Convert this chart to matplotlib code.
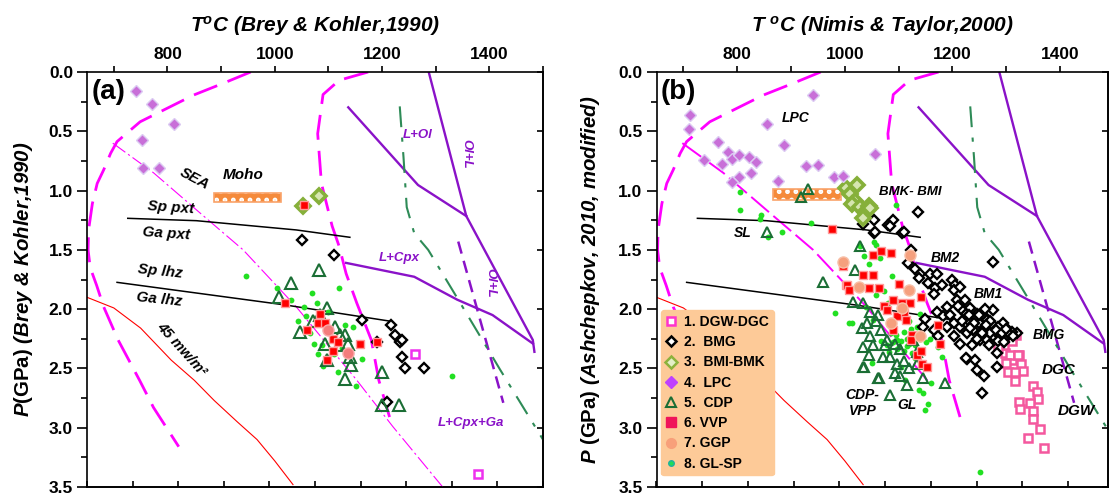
import numpy as np
import matplotlib
matplotlib.use("Agg")
import matplotlib.pyplot as plt
from matplotlib.lines import Line2D
from matplotlib.patches import Rectangle
from matplotlib.ticker import MultipleLocator, FormatStrFormatter

plt.rcParams['font.family'] = 'Liberation Sans'
plt.rcParams['font.weight'] = 'bold'
plt.rcParams['mathtext.fontset'] = 'custom'
plt.rcParams['mathtext.rm'] = 'Liberation Sans:bold'
plt.rcParams['mathtext.default'] = 'regular'
plt.rcParams['hatch.linewidth'] = 2.2

# ---------------- reference curves (T in C, P in GPa) ----------------
mag1_T = [955, 904, 849, 787, 749, 706, 694, 681, 669, 660, 653, 652, 656, 668, 681, 708, 748, 774, 821]
mag1_P = [0, 0.095, 0.194, 0.334, 0.42, 0.587, 0.686, 0.826, 0.94, 1.11, 1.33, 1.5, 1.65, 1.8, 1.98, 2.26, 2.6, 2.83, 3.16]
mag2_T = [1174, 1120, 1090, 1080, 1087, 1107, 1120, 1133, 1153, 1180, 1194, 1214]
mag2_P = [0, 0.07, 0.19, 0.52, 0.94, 1.3, 1.47, 1.7, 1.95, 2.26, 2.6, 2.91]
sea_T = [698, 774, 861, 941, 1040, 1153, 1220, 1313]
sea_P = [0.6, 0.85, 1.19, 1.5, 1.98, 2.6, 2.99, 3.5]
geo45_T = [650, 700, 750, 807, 850, 887, 930, 967, 1000, 1034]
geo45_P = [1.9, 1.99, 2.16, 2.43, 2.6, 2.77, 2.95, 3.1, 3.28, 3.48]
pxt_T = [726, 854, 1040, 1140]
pxt_P = [1.234, 1.254, 1.332, 1.394]
lhz_T = [706, 1020, 1213]
lhz_P = [1.774, 1.965, 2.1]
lol_T = [1137, 1267, 1357]
lol_P = [0.298, 0.953, 1.215]
oll_T = [1287, 1357, 1481, 1484]
oll_P = [0, 1.215, 2.26, 2.36]
lcpx_T = [1133, 1260, 1340, 1406, 1481]
lcpx_P = [1.61, 1.727, 1.92, 2.05, 2.29]
oldash_T = [1342, 1426]
oldash_P = [1.43, 2.79]
green_T = [1233, 1240, 1246, 1260, 1286, 1346, 1420, 1500]
green_P = [0.29, 0.72, 1.14, 1.36, 1.5, 1.95, 2.51, 3.1]

# ---------------- panel (a) data ----------------
a_lpc_T = [741, 771, 813, 752, 754, 785]
a_lpc_P = [0.157, 0.27, 0.44, 0.573, 0.807, 0.807]
a_bmi_T = [1052, 1082]
a_bmi_P = [1.127, 1.046]
a_bmg_T = [1050, 1110, 1162, 1217, 1224, 1234, 1237, 1237, 1242, 1279, 1210, 1190]
a_bmg_P = [1.42, 1.543, 2.09, 2.134, 2.218, 2.274, 2.26, 2.406, 2.5, 2.5, 2.78, 2.274]
a_dg_T = [1261, 1379]
a_dg_P = [2.38, 3.39]
a_cdp_T = [1082, 1030, 1008, 1047, 1072, 1097, 1112, 1094, 1121, 1131, 1137, 1140, 1143, 1097, 1131,
           1199, 1199, 1232, 1085, 1120]
a_cdp_P = [1.67, 1.78, 1.9, 2.19, 2.1, 1.99, 2.15, 2.29, 2.22, 2.22, 2.29, 2.4, 2.47, 2.43, 2.59,
           2.53, 2.81, 2.81, 2.05, 2.3]
a_vvp_T = [1054, 1019, 1085, 1081, 1094, 1061, 1108, 1117, 1108, 1098, 1159, 1191]
a_vvp_P = [1.12, 1.95, 2.04, 2.12, 2.12, 2.18, 2.25, 2.28, 2.35, 2.43, 2.29, 2.28]
a_ggp_T = [1099, 1137]
a_ggp_P = [2.18, 2.37]
a_gl_T = [946, 1004, 1120, 1031, 1069, 1078, 1055, 1044, 1066, 1073, 1081, 1131, 1146, 1162, 1117,
          1151, 1330, 1088, 1125, 1058, 1100, 1110, 1090]
a_gl_P = [1.72, 1.82, 1.82, 1.92, 1.86, 1.95, 1.98, 2.1, 2.2, 2.29, 2.38, 2.13, 2.15, 2.42, 2.53,
          2.65, 2.56, 2.3, 2.33, 2.06, 2.02, 2.38, 2.48]

# ---------------- panel (b) data ----------------
b_dg_T = [1324, 1310, 1327, 1304, 1331, 1316, 1350, 1357, 1358, 1324, 1326, 1344, 1350, 1350, 1362,
          1341, 1371, 1298, 1307, 1322, 1316, 1300, 1310, 1318, 1296, 1285, 1300]
b_dg_P = [2.39, 2.43, 2.46, 2.53, 2.52, 2.61, 2.65, 2.70, 2.76, 2.78, 2.84, 2.79, 2.86, 2.93, 3.01,
          3.09, 3.17, 2.37, 2.39, 2.39, 2.53, 2.23, 2.27, 2.22, 2.30, 2.33, 2.45]
b_bmg_T = [1055, 1106, 1118, 1130, 1140, 1137, 1158, 1172, 1155, 1168, 1165, 1180, 1199, 1205, 1202,
           1276, 1208, 1223, 1220, 1233, 1245, 1258, 1264, 1276, 1276, 1289, 1298, 1301, 1251, 1264,
           1276, 1239, 1227, 1214, 1202, 1189, 1183, 1171, 1149, 1165, 1174, 1202, 1214, 1227, 1242,
           1258, 1245, 1254, 1146, 1214, 1226, 1294, 1319, 1288, 1236, 1225, 1282, 1282, 1034, 1054,
           1056, 1081, 1089, 1083, 1109, 1136, 1122, 1310, 1305, 1270, 1250, 1240, 1260, 1285, 1295,
           1230, 1215, 1230, 1240, 1250, 1262, 1270, 1280, 1292, 1300, 1285, 1268, 1255, 1245, 1232,
           1218, 1196, 1190, 1210, 1260, 1296, 1313]
b_bmg_P = [1.36, 1.36, 1.61, 1.66, 1.70, 1.74, 1.70, 1.70, 1.78, 1.82, 1.87, 1.80, 1.75, 1.80, 1.84,
           1.60, 1.92, 1.92, 2.01, 1.99, 2.04, 2.06, 2.09, 2.01, 2.13, 2.18, 2.15, 2.23, 2.26, 2.26,
           2.23, 2.18, 2.20, 2.15, 2.12, 2.15, 2.06, 2.02, 2.08, 2.18, 2.23, 2.23, 2.29, 2.42, 2.43,
           2.56, 2.51, 2.71, 2.15, 1.81, 2.04, 2.12, 2.20, 2.23, 2.30, 2.41, 2.49, 2.37, 1.28, 1.25,
           1.35, 1.29, 1.25, 1.30, 1.35, 1.18, 1.50, 2.19, 2.21, 2.10, 2.12, 2.08, 2.17, 2.15, 2.25,
           2.10, 2.00, 2.05, 2.12, 2.05, 2.13, 2.20, 2.18, 2.20, 2.17, 2.27, 2.30, 2.20, 2.25, 2.16,
           2.10, 2.05, 1.98, 1.97, 2.00, 2.28, 2.23]
b_bmi_T = [1003, 1023, 1010, 1019, 1013, 1028, 1044, 1037, 1034, 1047]
b_bmi_P = [0.98, 0.95, 1.03, 1.085, 1.11, 1.14, 1.13, 1.18, 1.23, 1.15]
b_lpc_T = [941, 712, 711, 855, 886, 765, 782, 739, 771, 790, 803, 822, 835, 825, 804, 790, 876, 927,
           951, 1056, 980, 997]
b_lpc_P = [0.194, 0.363, 0.483, 0.441, 0.616, 0.588, 0.672, 0.742, 0.776, 0.737, 0.70, 0.72, 0.756,
           0.855, 0.888, 0.93, 0.92, 0.793, 0.784, 0.694, 0.888, 0.874]
b_cdp_T = [932, 918, 856, 959, 1028, 1019, 1016, 1034, 1047, 1062, 1031, 1041, 1068, 1047, 1078, 1075,
           1093, 1103, 1034, 1044, 1034, 1084, 1096, 1093, 1109, 1115, 1062, 1084, 1127, 1134, 1186,
           1134, 1036, 1063, 1146, 1057, 1052, 1070, 1102, 1120]
b_cdp_P = [0.99, 1.05, 1.35, 1.77, 1.47, 1.67, 1.94, 1.95, 2.02, 2.05, 2.16, 2.12, 2.18, 2.23, 2.26,
           2.30, 2.29, 2.34, 2.32, 2.39, 2.49, 2.40, 2.46, 2.54, 2.44, 2.64, 2.58, 2.72, 2.26, 2.36,
           2.62, 2.46, 2.49, 2.58, 2.58, 2.10, 2.30, 2.40, 2.56, 2.50]
b_vvp_T = [976, 1002, 1053, 1068, 1086, 1034, 1053, 1004, 1007, 1044, 1064, 1101, 1089, 1106, 1121,
           1109, 1096, 1114, 1124, 1134, 1143, 1152, 1174, 1177, 997, 1073, 1079, 1142, 1089, 1122, 1142]
b_vvp_P = [1.32, 1.80, 1.54, 1.51, 1.53, 1.71, 1.71, 1.80, 1.84, 1.82, 1.82, 1.79, 1.92, 1.95, 1.95,
           2.03, 2.06, 2.09, 2.22, 2.39, 2.46, 2.49, 2.13, 2.29, 1.64, 1.97, 2.01, 1.90, 2.18, 2.26, 2.35]
b_ggp_T = [996, 1121, 1026, 1119, 1106, 1085, 1139]
b_ggp_P = [1.60, 1.54, 1.81, 1.84, 1.99, 2.12, 2.23]
b_gl_T = [806, 805, 844, 843, 858, 883, 938, 1028, 1054, 1058, 982, 1008, 1095, 1013, 1053, 1040,
          1058, 1080, 1100, 1122, 1140, 1160, 1150, 1174, 1158, 1140, 1110, 1097, 1082, 1096, 1116,
          1130, 1104, 1112, 1146, 1155, 1149, 1137, 1160, 1215, 1252, 1310, 1073, 1045, 1036, 1066,
          1088, 1120, 1180, 1135, 1125, 1092, 1067, 1050, 1085, 1095, 1105, 1115, 1100, 1090, 1110,
          1120, 1078, 1130]
b_gl_P = [1.01, 1.16, 1.21, 1.24, 1.39, 1.35, 1.27, 1.47, 1.43, 1.46, 2.03, 2.12, 1.12, 2.12, 2.09,
          1.98, 1.88, 1.95, 2.04, 2.17, 2.04, 2.18, 2.28, 2.32, 2.25, 2.25, 2.19, 2.26, 2.36, 2.34,
          2.31, 2.41, 2.49, 2.60, 2.71, 2.80, 2.85, 2.68, 2.62, 2.29, 3.37, 2.20, 1.85, 1.62, 1.55,
          1.57, 1.72, 2.10, 2.40, 2.15, 2.37, 2.15, 2.27, 2.45, 2.20, 2.22, 2.27, 2.25, 2.32, 2.28,
          2.35, 2.29, 2.30, 2.30]

legend_labels = ['1. DGW-DGC', '2.  BMG', '3.  BMI-BMK', '4.  LPC', '5.  CDP', '6. VVP', '7. GGP',
                 '8. GL-SP']

PURPLE = '#8A12C8'
MAGENTA = '#FF00FF'
TRI = '#1B6E35'


def draw_curves(ax, sea_stop, sea_lw, sea_dash):
    ax.plot(mag1_T, mag1_P, color=MAGENTA, lw=2.0, dashes=(9, 4), zorder=1)
    ax.plot(mag2_T, mag2_P, color=MAGENTA, lw=2.0, dashes=(9, 4), zorder=1)
    n = sum(1 for p in sea_P if p <= sea_stop)
    ax.plot(sea_T[:n], sea_P[:n], color=MAGENTA, lw=sea_lw, dashes=sea_dash, zorder=1)
    ax.plot(geo45_T, geo45_P, color='red', lw=0.8, zorder=1)
    ax.plot(pxt_T, pxt_P, color='black', lw=1.1, zorder=1)
    ax.plot(lhz_T, lhz_P, color='black', lw=1.1, zorder=1)
    for t, p in [(lol_T, lol_P), (oll_T, oll_P), (lcpx_T, lcpx_P)]:
        ax.plot(t, p, color=PURPLE, lw=1.7, zorder=1)
    ax.plot(oldash_T, oldash_P, color=PURPLE, lw=1.8, dashes=(5, 3), zorder=1)
    ax.plot(green_T, green_P, color='#2E8B57', lw=1.5, dashes=(10, 5, 2, 5), zorder=1)


def setup_axes(ax, xmax, xlabel, ylabel, ylabelpad):
    ax.set_xlim(650, xmax)
    ax.set_ylim(3.5, 0)
    ax.xaxis.set_ticks_position('top')
    ax.xaxis.set_label_position('top')
    ax.set_xticks([800, 1000, 1200, 1400])
    ax.set_xticks([t for t in [700, 900, 1100, 1300, 1500] if t <= xmax], minor=True)
    ax.yaxis.set_major_locator(MultipleLocator(0.5))
    ax.yaxis.set_minor_locator(MultipleLocator(0.25))
    ax.yaxis.set_major_formatter(FormatStrFormatter('%.1f'))
    ax.yaxis.set_ticks_position('left')
    ax.tick_params(axis='x', which='both', direction='out', length=4, width=1.2,
                   labelsize=12.5, pad=3)
    ax.tick_params(axis='y', which='major', direction='out', length=7, width=1.2,
                   labelsize=12.5, pad=3)
    ax.tick_params(axis='y', which='minor', direction='out', length=4, width=1.2)
    for lab in ax.get_xticklabels() + ax.get_yticklabels():
        lab.set_fontweight('bold')
    sec = ax.secondary_xaxis('bottom')
    sec.set_xticks([650 + 85 * k for k in range(11) if 650 + 85 * k <= xmax])
    sec.tick_params(direction='in', length=4, width=1.2, labelbottom=False)
    secy = ax.secondary_yaxis('right')
    secy.set_yticks([0.5 * k for k in range(8)])
    secy.tick_params(direction='in', length=4, width=1.2, labelright=False)
    for s in list(ax.spines.values()) + list(sec.spines.values()) + list(secy.spines.values()):
        s.set_linewidth(1.2)
    ax.set_xlabel(xlabel, fontsize=15, fontstyle='italic', fontweight='bold', labelpad=11)
    ax.set_ylabel(ylabel, fontsize=14.7, fontstyle='italic', fontweight='bold', labelpad=ylabelpad)


def moho(ax, t0, t1, p0, p1):
    ax.add_patch(Rectangle((t0, p0), t1 - t0, p1 - p0, facecolor='#F58A3A', edgecolor='white',
                           hatch='..', lw=0, zorder=2))
    ax.add_patch(Rectangle((t0, p0), t1 - t0, p1 - p0, facecolor='none', edgecolor='#F9A36A',
                           lw=1.2, zorder=2))


def label(ax, s, t, p, size=10.5, color='black', rot=0):
    ax.text(t, p, s, fontsize=size, color=color, fontstyle='italic', fontweight='bold',
            rotation=rot, ha='center', va='center', rotation_mode='anchor', zorder=6)


fig = plt.figure(figsize=(11.09, 4.94), dpi=100)
ax_a = fig.add_axes([87 / 1109, 7 / 494, 456 / 1109, 415 / 494])
ax_b = fig.add_axes([656.5 / 1109, 7 / 494, 451.5 / 1109, 415 / 494])

# ---------------- panel (a) ----------------
ax = ax_a
draw_curves(ax, 3.6, 0.8, (14, 3, 2, 3))
moho(ax, 886, 1011, 1.02, 1.10)
ax.plot(a_gl_T, a_gl_P, 'o', ms=4.2, color='#22E022', mec='none', zorder=3)
ax.plot(a_lpc_T, a_lpc_P, 'D', ms=6, mfc='#C86FD8', mec='#DCCBF2', mew=1, zorder=4)
ax.plot(a_bmi_T, a_bmi_P, 'D', ms=7, mfc='#D6E6B0', mec='#86B03A', mew=2.6, zorder=4)
ax.plot(a_bmg_T, a_bmg_P, 'D', ms=5, mfc='white', mec='black', mew=1.7, zorder=4)
ax.plot(a_dg_T, a_dg_P, 's', ms=6, mfc='white', mec='#EE30EE', mew=1.8, zorder=4)
ax.plot(a_cdp_T, a_cdp_P, '^', ms=8, mfc='none', mec=TRI, mew=1.5, zorder=5)
ax.plot(a_vvp_T, a_vvp_P, 's', ms=6, mfc='#FF0000', mec='#FF9A9A', mew=1, zorder=5)
ax.plot(a_ggp_T, a_ggp_P, 'o', ms=8, mfc='#F47C7C', mec='#F9AAAA', mew=1, zorder=5)

ax.text(0.01, 0.952, '(a)', transform=ax.transAxes, fontsize=20, fontweight='bold',
        ha='left', va='center')
label(ax, 'SEA', 851, 0.9, 11, rot=-28)
label(ax, 'Moho', 941, 0.87, 11)
label(ax, 'Sp pxt', 807, 1.14, 11, rot=-4)
label(ax, 'Ga pxt', 797, 1.36, 11, rot=-4)
label(ax, 'Sp lhz', 787, 1.68, 11, rot=-6)
label(ax, 'Ga lhz', 784, 1.92, 11, rot=-6)
label(ax, '45 mw/m²', 827, 2.34, 10.5, rot=-48)
label(ax, 'L+Ol', 1267, 0.53, 9.5, PURPLE)
label(ax, 'Ol+L', 1358, 0.69, 9.5, PURPLE, rot=-90)
label(ax, 'Ol+L', 1401, 1.78, 9.5, PURPLE, rot=-90)
label(ax, 'L+Cpx', 1233, 1.57, 9.5, PURPLE)
label(ax, 'L+Cpx+Ga', 1366, 2.96, 9.5, PURPLE)
setup_axes(ax, 1500, r'T$^{o}$C (Brey & Kohler,1990)',
           r'P$\mathrm{(GPa)}$ (Brey & Kohler,1990)', 10)

# ---------------- panel (b) ----------------
ax = ax_b
draw_curves(ax, 2.9, 1.4, (12, 3))
moho(ax, 867, 992, 0.99, 1.08)
ax.plot(b_gl_T, b_gl_P, 'o', ms=4.2, color='#22E022', mec='none', zorder=3)
ax.plot(b_dg_T, b_dg_P, 's', ms=6, mfc='white', mec='#F4589E', mew=1.8, zorder=4)
ax.plot(b_bmg_T, b_bmg_P, 'D', ms=5, mfc='white', mec='black', mew=1.7, zorder=4)
ax.plot(b_bmi_T, b_bmi_P, 'D', ms=7, mfc='#D6E6B0', mec='#86B03A', mew=2.6, zorder=4)
ax.plot(b_lpc_T, b_lpc_P, 'D', ms=6, mfc='#C86FD8', mec='#DCCBF2', mew=1, zorder=4)
ax.plot(b_cdp_T, b_cdp_P, '^', ms=7, mfc='none', mec=TRI, mew=1.5, zorder=5)
ax.plot(b_vvp_T, b_vvp_P, 's', ms=6, mfc='#FF0000', mec='#FF9A9A', mew=1, zorder=5)
ax.plot(b_ggp_T, b_ggp_P, 'o', ms=8, mfc='#F5A07E', mec='#F8C0A8', mew=1, zorder=5)

ax.text(0.01, 0.952, '(b)', transform=ax.transAxes, fontsize=20, fontweight='bold',
        ha='left', va='center')
label(ax, 'LPC', 909, 0.39, 10)
label(ax, 'SL', 811, 1.355, 10)
label(ax, 'BMK- BMI', 1122, 1.015, 9.5)
label(ax, 'BM2', 1186, 1.57, 10)
label(ax, 'BM1', 1267, 1.875, 10)
label(ax, 'BMG', 1380, 2.22, 10)
label(ax, 'DGC', 1397, 2.51, 11)
label(ax, 'DGW', 1431, 2.86, 11)
label(ax, 'CDP-\nVPP', 1033, 2.79, 10)
label(ax, 'GL', 1115, 2.81, 10)
setup_axes(ax, 1489, r'T $^{o}$C (Nimis & Taylor,2000)',
           r'P $\mathrm{(GPa)}$ (Ashchepkov, 2010, modified)', 12)

handles = [
    Line2D([], [], ls='none', marker='s', ms=6, mfc='white', mec='#FF33CC', mew=1.8),
    Line2D([], [], ls='none', marker='D', ms=5, mfc='white', mec='black', mew=1.8),
    Line2D([], [], ls='none', marker='D', ms=6, mfc='#E4EFC8', mec='#8DB23C', mew=1.8),
    Line2D([], [], ls='none', marker='D', ms=6, mfc='#BF40FF', mec='#BF40FF'),
    Line2D([], [], ls='none', marker='^', ms=7, mfc='none', mec=TRI, mew=1.5),
    Line2D([], [], ls='none', marker='s', ms=7, mfc='#F0145A', mec='#F0145A'),
    Line2D([], [], ls='none', marker='o', ms=7, mfc='#F8A07A', mec='#F8A07A'),
    Line2D([], [], ls='none', marker='o', ms=4, mfc='#22DD55', mec='#20B0A0', mew=1),
]
leg = ax.legend(handles, legend_labels, loc='upper left', bbox_to_anchor=(0.01, 0.4265),
                borderaxespad=0, prop={'weight': 'bold', 'size': 10}, frameon=True,
                facecolor='#FDCA98', edgecolor='#FDCA98', framealpha=1, fancybox=True,
                borderpad=0.35, labelspacing=0.45, handlelength=0.8, handletextpad=0.5)
leg.set_zorder(10)

fig.savefig('out.png', dpi=100)
